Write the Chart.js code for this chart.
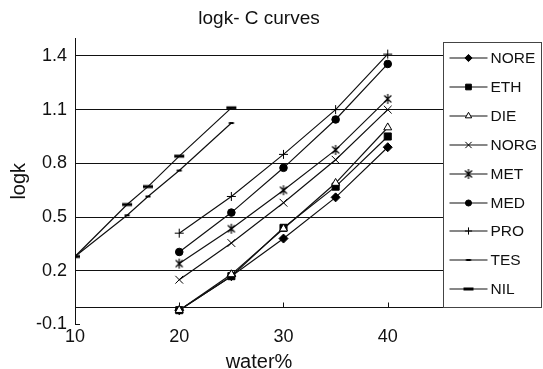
<!DOCTYPE html>
<html>
<head>
<meta charset="utf-8">
<script src="https://cdn.jsdelivr.net/npm/chart.js@4.4.1/dist/chart.umd.min.js"></script>
<style>
  html, body { margin: 0; padding: 0; background: #fff; }
  #wrap { width: 543px; height: 369px; }
</style>
</head>
<body>
<div id="wrap"><canvas id="curveChart" width="543" height="369"></canvas></div>
<script>
// Valores
const waterMain = [20, 25, 30, 35, 40];
const waterLow = [10, 15, 17, 20, 25];

const nore = [-0.02, 0.17, 0.38, 0.61, 0.89];
const eth = [-0.02, 0.17, 0.44, 0.67, 0.95];
const die = [-0.02, 0.18, 0.435, 0.69, 1.0];
const norg = [0.15, 0.355, 0.58, 0.82, 1.1];
const met = [0.24, 0.435, 0.65, 0.875, 1.16];
const med = [0.305, 0.525, 0.775, 1.045, 1.355];
const pro = [0.41, 0.615, 0.85, 1.1, 1.41];
const tes = [0.28, 0.51, 0.615, 0.76, 1.025];
const nil = [0.28, 0.57, 0.67, 0.84, 1.11];

const yTicks = [-0.1, 0.2, 0.5, 0.8, 1.1, 1.4];
const xTicks = [10, 20, 30, 40];

const FONT = '"Liberation Sans", Arial, sans-serif';
const INK = '#111';

// Marcadores que Chart.js no trae
function makeMarker(kind) {
    const c = document.createElement('canvas');
    c.width = 12;
    c.height = 12;
    const g = c.getContext('2d');
    g.strokeStyle = '#000';
    g.fillStyle = '#000';
    g.lineWidth = 1.2;
    if (kind === 'asterisk') {
        g.beginPath();
        g.moveTo(2.5, 2.5); g.lineTo(9.5, 9.5);
        g.moveTo(9.5, 2.5); g.lineTo(2.5, 9.5);
        g.moveTo(6, 1); g.lineTo(6, 11);
        g.stroke();
    } else if (kind === 'dashSmall') {
        g.fillRect(3.5, 5, 5, 2);
    } else if (kind === 'dashWide') {
        g.fillRect(1, 4.5, 10, 3);
    }
    return c;
}

function toPoints(xs, ys) {
    return xs.map((x, i) => ({ x: x, y: ys[i] }));
}

function makeSeries(label, xs, ys, pointStyle, radius, fill, order) {
    return {
        label: label,
        data: toPoints(xs, ys),
        order: order || 0,
        borderColor: INK,
        borderWidth: 1.2,
        tension: 0,
        pointStyle: pointStyle,
        pointRadius: radius,
        pointBorderColor: '#000',
        pointBorderWidth: 1,
        pointBackgroundColor: fill
    };
}

const datasets = [
    makeSeries('NORE', waterMain, nore, 'rectRot', 4.5, '#000'),
    makeSeries('ETH', waterMain, eth, 'rect', 5, '#000'),
    makeSeries('DIE', waterMain, die, 'triangle', 4.6, '#fff', -1),
    makeSeries('NORG', waterMain, norg, 'crossRot', 5.5, '#000'),
    makeSeries('MET', waterMain, met, makeMarker('asterisk'), 5, '#000'),
    makeSeries('MED', waterMain, med, 'circle', 3.8, '#000'),
    makeSeries('PRO', waterMain, pro, 'cross', 4.5, '#000'),
    makeSeries('TES', waterLow, tes, makeMarker('dashSmall'), 4, '#000'),
    makeSeries('NIL', waterLow, nil, makeMarker('dashWide'), 4, '#000')
];

// Eje en y = 0 con marcas hacia dentro
const zeroAxis = {
    id: 'zeroAxis',
    beforeDatasetsDraw(chart) {
        const { ctx, chartArea, scales } = chart;
        const y0 = Math.round(scales.y.getPixelForValue(0)) + 0.5;
        const yb = Math.round(scales.y.getPixelForValue(-0.1)) - 0.5;
        ctx.save();
        ctx.strokeStyle = INK;
        ctx.lineWidth = 1;
        ctx.beginPath();
        ctx.moveTo(chartArea.left, y0);
        ctx.lineTo(chartArea.right, y0);
        xTicks.forEach(v => {
            const px = Math.round(scales.x.getPixelForValue(v)) + 0.5;
            ctx.moveTo(px, y0);
            ctx.lineTo(px, y0 - 5);
        });
        ctx.moveTo(chartArea.left, yb);
        ctx.lineTo(chartArea.left + 5, yb);
        ctx.stroke();
        ctx.restore();
    }
};

// Leyenda con línea y marcador, dentro de un recuadro
const boxedLegend = {
    id: 'boxedLegend',
    afterDraw(chart) {
        const { ctx, chartArea, scales } = chart;
        const left = Math.round(chartArea.right) + 0.5;
        const top = 42.5;
        const right = 541.5;
        const bottom = Math.round(scales.y.getPixelForValue(0)) + 0.5;
        ctx.save();
        ctx.strokeStyle = '#444';
        ctx.lineWidth = 1;
        ctx.strokeRect(left, top, right - left, bottom - top);

        chart.data.datasets.forEach((ds, i) => {
            const y = Math.round(top + 15.5 + i * 28.9);
            const x0 = left + 6;
            const x1 = left + 44;
            const cx = (x0 + x1) / 2;
            ctx.strokeStyle = INK;
            ctx.lineWidth = 1.2;
            ctx.beginPath();
            ctx.moveTo(x0, y);
            ctx.lineTo(x1, y);
            ctx.stroke();

            const ps = ds.pointStyle;
            if (ps instanceof HTMLCanvasElement) {
                ctx.drawImage(ps, cx - ps.width / 2, y - ps.height / 2);
            } else {
                ctx.fillStyle = ds.pointBackgroundColor;
                ctx.strokeStyle = '#000';
                ctx.lineWidth = 1;
                Chart.helpers.drawPoint(ctx, {
                    pointStyle: ps,
                    radius: ds.pointRadius * 0.8,
                    borderWidth: 1,
                    rotation: 0
                }, cx, y);
            }

            ctx.fillStyle = INK;
            ctx.font = '15.5px ' + FONT;
            ctx.textBaseline = 'middle';
            ctx.textAlign = 'left';
            ctx.fillText(ds.label, left + 47, y + 0.5);
        });
        ctx.restore();
    }
};

new Chart(document.getElementById('curveChart').getContext('2d'), {
    type: 'line',
    data: { datasets: datasets },
    options: {
        responsive: false,
        animation: false,
        layout: { padding: { right: 100 } },
        plugins: {
            legend: { display: false },
            tooltip: { enabled: false },
            title: {
                display: true,
                text: 'logk- C curves',
                fullSize: false,
                color: INK,
                font: { family: FONT, size: 19, weight: 'normal' },
                padding: { top: 7.6, bottom: 7.6 }
            }
        },
        scales: {
            x: {
                type: 'linear',
                min: 10,
                max: 45.3,
                afterFit(scale) { scale.height = 44.5; },
                afterBuildTicks(scale) { scale.ticks = xTicks.map(v => ({ value: v })); },
                grid: { display: false, drawTicks: false },
                border: { display: false },
                ticks: {
                    color: INK,
                    padding: 2,
                    maxRotation: 0,
                    font: { family: FONT, size: 18 }
                },
                title: {
                    display: true,
                    text: 'water%',
                    color: INK,
                    font: { family: FONT, size: 20 },
                    padding: { top: 0, bottom: -5 }
                }
            },
            y: {
                min: -0.1,
                max: 1.5,
                afterFit(scale) { scale.width = 75; },
                afterBuildTicks(scale) { scale.ticks = yTicks.map(v => ({ value: v })); },
                grid: {
                    drawTicks: false,
                    lineWidth: 1,
                    color: ctx => (ctx.tick && ctx.tick.value < 0 ? 'rgba(0,0,0,0)' : INK)
                },
                border: { display: true, color: INK, width: 1 },
                ticks: {
                    color: INK,
                    padding: 8,
                    font: { family: FONT, size: 18 },
                    callback: v => Number(v).toFixed(1)
                },
                title: {
                    display: true,
                    text: 'logk',
                    color: INK,
                    font: { family: FONT, size: 20 },
                    padding: { top: 7, bottom: 0 }
                }
            }
        }
    },
    plugins: [zeroAxis, boxedLegend]
});
</script>
</body>
</html>
